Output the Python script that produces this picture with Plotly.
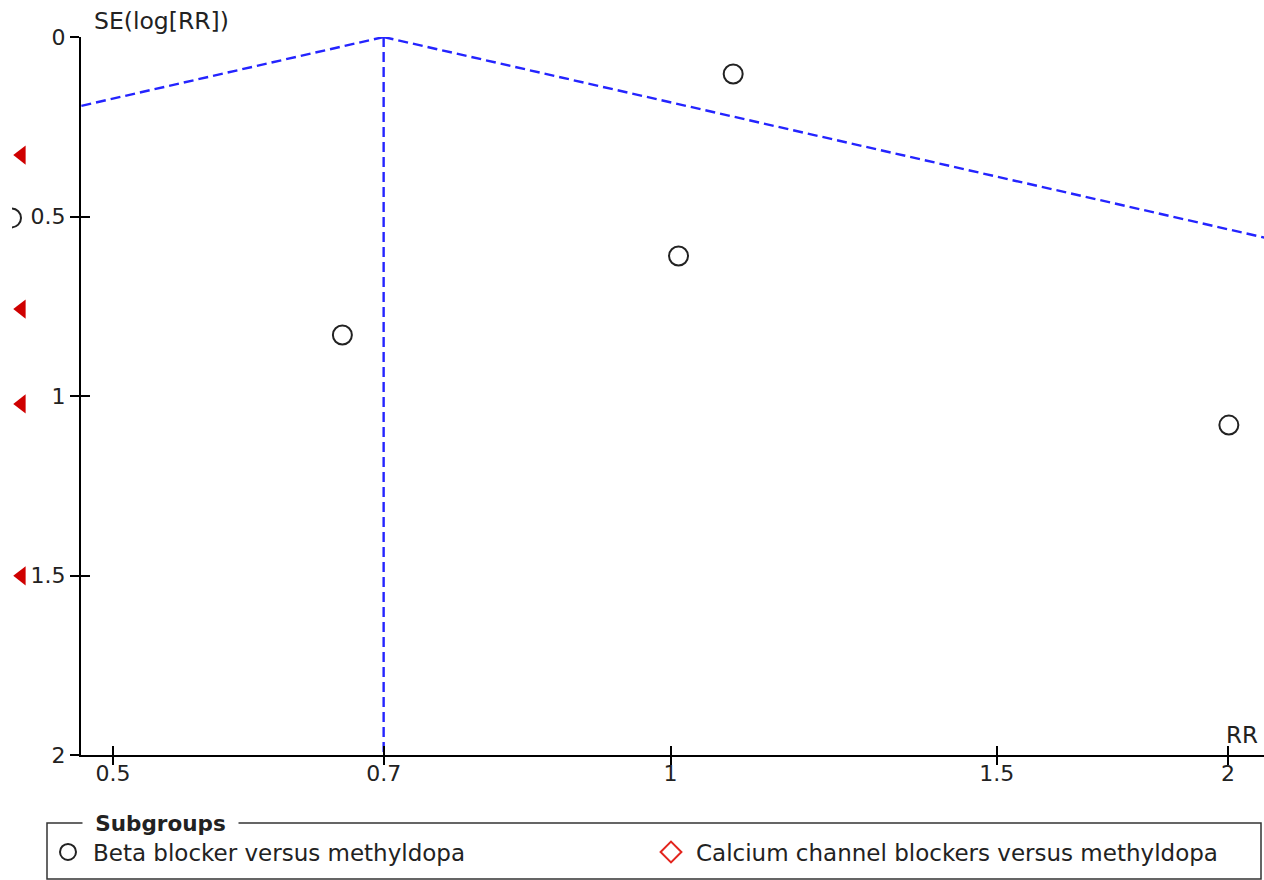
import plotly.graph_objects as go
import math

# ---------------- data ----------------
beta_rr = [1.081, 1.010, 0.665, 2.002]
beta_se = [0.103, 0.610, 0.830, 1.081]

# studies falling outside the RR axis range (drawn in the left margin strip)
beta_offscale_se = [0.504]
ccb_offscale_se = [0.329, 0.758, 1.022, 1.501]

pooled_rr = 0.70
se_max = 2.0
z95 = 1.96

x_tickvals = [0.5, 0.7, 1, 1.5, 2]
x_ticktext = ["0.5", "0.7", "1", "1.5", "2"]
y_tickvals = [0, 0.5, 1, 1.5, 2]
y_ticktext = ["0", "0.5", "1", "1.5", "2"]

series_names = ["Beta blocker versus methyldopa",
                "Calcium channel blockers versus methyldopa"]

# ---------------- layout constants ----------------
W, H = 1264, 880
MT, MB = 37, 125
PH = H - MT - MB
AXIS_X = 81          # pixel of the y axis line
STRIP_X0 = 12        # left edge of off-scale marker strip
x_range_rr = (0.4805, 2.0914)
x_range = [math.log10(x_range_rr[0]), math.log10(x_range_rr[1])]
FONT = "DejaVu Sans"
TXT = "#222222"
BLUE = "#2424ff"
RED = "#cf0000"
RED2 = "#e3261f"
strip_circle_x = 11.5
strip_tri_x = 21.5


def px_x(p):
    return p / W


def px_y(p):
    return (H - MB - p) / PH


fig = go.Figure()

# funnel (pseudo 95% limits) and pooled line
left_rr = [pooled_rr, pooled_rr * math.exp(-z95 * se_max)]
right_rr = [pooled_rr, pooled_rr * math.exp(z95 * se_max)]
dash_line = dict(color=BLUE, width=2.4, dash="10px,5px")
for xs in (left_rr, right_rr, [pooled_rr, pooled_rr]):
    fig.add_trace(go.Scatter(x=xs, y=[0, se_max], mode="lines", line=dash_line,
                             showlegend=False, hoverinfo="skip"))

# studies
circle_marker = dict(symbol="circle-open", size=19, color="#222222",
                     line=dict(width=2, color="#222222"))
fig.add_trace(go.Scatter(x=beta_rr, y=beta_se, mode="markers",
                         name=series_names[0], marker=circle_marker))
fig.add_trace(go.Scatter(x=[None], y=[None], mode="markers", name=series_names[1],
                         marker=dict(symbol="diamond-open", size=18, color=RED2,
                                     line=dict(width=2, color=RED2))))

# off-scale studies in the margin strip (own x axis)
fig.add_trace(go.Scatter(x=[strip_circle_x] * len(beta_offscale_se), y=beta_offscale_se,
                         xaxis="x3", yaxis="y", mode="markers", showlegend=False,
                         marker=circle_marker, hoverinfo="skip"))
fig.add_trace(go.Scatter(x=[strip_tri_x] * len(ccb_offscale_se), y=ccb_offscale_se,
                         xaxis="x3", yaxis="y", mode="markers", showlegend=False,
                         marker=dict(symbol="triangle-left", size=16.5, color=RED,
                                     line=dict(width=0)), hoverinfo="skip"))

# dummy traces for overlay (outside-tick) axes
fig.add_trace(go.Scatter(x=[1], y=[1], xaxis="x2", yaxis="y", mode="markers",
                         marker=dict(opacity=0), showlegend=False, hoverinfo="skip"))
fig.add_trace(go.Scatter(x=[1], y=[1], xaxis="x", yaxis="y2", mode="markers",
                         marker=dict(opacity=0), showlegend=False, hoverinfo="skip"))

tick_style = dict(ticklen=9, tickwidth=1.5, tickcolor="black", showgrid=False,
                  zeroline=False, automargin=False)
dom_main = [AXIS_X / W, 1]
fig.update_layout(
    width=W, height=H,
    margin=dict(l=0, r=0, t=MT, b=MB),
    paper_bgcolor="white", plot_bgcolor="white",
    font=dict(family=FONT, size=22, color=TXT),
    xaxis=dict(type="log", range=x_range, domain=dom_main, anchor="y",
               tickvals=x_tickvals, ticktext=x_ticktext, ticks="inside",
               ticklabelstandoff=-2,
               showline=True, linecolor="black", linewidth=2,
               tickfont=dict(family=FONT, size=22, color=TXT), **tick_style),
    xaxis2=dict(type="log", range=x_range, domain=dom_main, overlaying="x",
                anchor="y", side="bottom", tickvals=x_tickvals,
                showticklabels=False, ticks="outside", showline=False, **tick_style),
    xaxis3=dict(range=[STRIP_X0, AXIS_X], domain=[STRIP_X0 / W, AXIS_X / W],
                anchor="y", showticklabels=False, ticks="", showline=False,
                showgrid=False, zeroline=False, automargin=False),
    yaxis=dict(range=[se_max, 0], anchor="x", tickvals=y_tickvals,
               ticktext=y_ticktext, ticks="outside",
               showline=True, linecolor="black", linewidth=2,
               tickfont=dict(family=FONT, size=22, color=TXT), **tick_style),
    yaxis2=dict(range=[se_max, 0], overlaying="y", anchor="x", side="left",
                tickvals=y_tickvals, showticklabels=False, ticks="inside",
                showline=False, **tick_style),
    showlegend=True,
    legend=dict(orientation="h", x=px_x(43), xanchor="left", y=px_y(852),
                yanchor="middle", entrywidth=548, entrywidthmode="pixels",
                itemwidth=40,
                font=dict(family=FONT, size=23, color=TXT),
                bgcolor="rgba(0,0,0,0)", borderwidth=0, itemsizing="trace"),
)

# legend frame
fig.add_shape(type="rect", xref="paper", yref="paper",
              x0=px_x(47), x1=px_x(1261), y0=px_y(879), y1=px_y(823),
              line=dict(color="#333333", width=1.5), fillcolor="rgba(0,0,0,0)",
              layer="above")

fig.add_annotation(text="<b>Subgroups</b>", xref="paper", yref="paper",
                   x=px_x(82), y=px_y(823), xanchor="left", yanchor="middle",
                   width=155, height=28, align="center", valign="middle",
                   showarrow=False, bgcolor="white", borderpad=0,
                   font=dict(family=FONT, size=21.5, color=TXT))
fig.add_annotation(text="SE(log[RR])", xref="paper", yref="paper",
                   x=px_x(92), y=px_y(21), xanchor="left", yanchor="middle",
                   showarrow=False, font=dict(family=FONT, size=23.5, color=TXT))
fig.add_annotation(text="RR", xref="paper", yref="paper",
                   x=px_x(1260), y=px_y(735), xanchor="right", yanchor="middle",
                   showarrow=False, font=dict(family=FONT, size=23, color=TXT))

fig.write_html("out.html")
